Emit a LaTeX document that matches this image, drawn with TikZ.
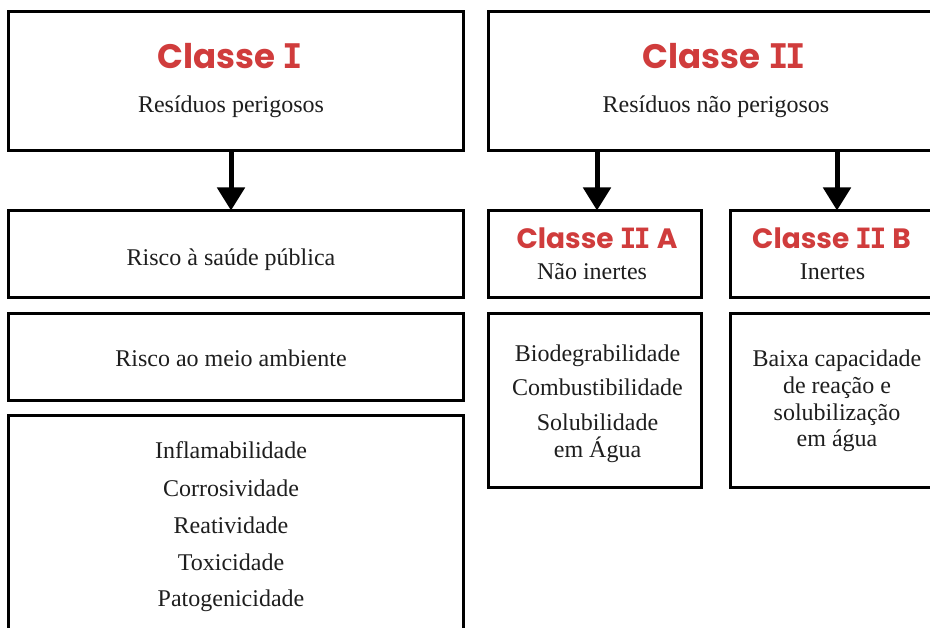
\documentclass[tikz,border=0pt]{standalone}
\usepackage{fontspec}
\setmainfont{Liberation Serif}
\newfontfamily\titlefont{Poppins Bold}
\newfontfamily\slabfont{DejaVu Sans Mono Bold}
\usetikzlibrary{arrows.meta}
\definecolor{titlered}{HTML}{D03C3C}
\definecolor{bodyink}{HTML}{1E1E1E}
\newcommand{\slabI}{{\slabfont I}}
\tikzset{
  box/.style={draw=black, line width=3pt, rectangle, inner sep=0pt, fill=white},
  bigtitle/.style={font=\titlefont\fontsize{34}{38}\selectfont, text=titlered, inner sep=0pt, anchor=base},
  smalltitle/.style={font=\titlefont\fontsize{28}{31}\selectfont, text=titlered, inner sep=0pt, anchor=base},
  body/.style={font=\fontsize{24}{28}\selectfont, text=bodyink, inner sep=0pt, anchor=base},
  arr/.style={line width=5pt, -{Triangle[width=27pt,length=23pt]}, shorten >=-1pt}
}
\begin{document}
\begin{tikzpicture}[x=1pt,y=-1pt]
\useasboundingbox (0,0) rectangle (930,628);
\clip (0,0) rectangle (930,628);
\fill[white] (0,0) rectangle (930,628);
% boxes
\node[box, minimum width=455pt, minimum height=139pt] (c1) at (235.5,81.5) {};
\node[box, minimum width=455pt, minimum height=139pt] (c2) at (715.5,81.5) {};
\node[box, minimum width=455pt, minimum height=87pt] (r1) at (235.5,254.5) {};
\node[box, minimum width=455pt, minimum height=87pt] (r2) at (235.5,357.5) {};
\node[box, minimum width=455pt, minimum height=230pt] (r3) at (235.5,531) {};
\node[box, minimum width=213pt, minimum height=87pt] (a1) at (594.5,254.5) {};
\node[box, minimum width=213pt, minimum height=174pt] (a2) at (594.5,401) {};
\node[box, minimum width=213pt, minimum height=87pt] (b1) at (836.5,254.5) {};
\node[box, minimum width=213pt, minimum height=174pt] (b2) at (836.5,401) {};
% arrows
\coordinate (s1) at (231,151);
\coordinate (s2) at (597,151);
\coordinate (s3) at (837,151);
\draw[arr] (c1.south -| s1) -- (r1.north -| s1);
\draw[arr] (c2.south -| s2) -- (a1.north -| s2);
\draw[arr] (c2.south -| s3) -- (b1.north -| s3);
% texts
\node[bigtitle] (t1) at (230,69) {Classe \slabI};
\node[body] (d1) at (231,113) {Resíduos perigosos};
\node[bigtitle] (t2) at (724.5,69) {Classe \slabI\kern-3pt\slabI};
\node[body] (d2) at (716,113) {Resíduos não perigosos};
\node[body] (x1) at (231,266) {Risco à saúde pública};
\node[body] (x2) at (231,367) {Risco ao meio ambiente};
\node[body] (l1) at (231,459) {Inflamabilidade};
\node[body] (l2) at (231,496.5) {Corrosividade};
\node[body] (l3) at (231,533) {Reatividade};
\node[body] (l4) at (231,570) {Toxicidade};
\node[body] (l5) at (231,606.5) {Patogenicidade};
\node[smalltitle] (ta) at (597,249) {Classe \slabI\kern-2.5pt\slabI{} A};
\node[body] (da) at (592,280) {Não inertes};
\node[smalltitle] (tb) at (831.5,249) {Classe \slabI\kern-2.5pt\slabI{} B};
\node[body] (db) at (832.5,280) {Inertes};
\node[body] (p1) at (597.5,361.5) {Biodegrabilidade};
\node[body] (p2) at (597.5,396) {Combustibilidade};
\node[body] (p3) at (597.5,430.5) {Solubilidade};
\node[body] (p4) at (597.5,458) {em Água};
\node[body] (q1) at (837,366.5) {Baixa capacidade};
\node[body] (q2) at (837,394) {de reação e};
\node[body] (q3) at (837,420.5) {solubilização};
\node[body] (q4) at (837,446.5) {em água};
\end{tikzpicture}
\end{document}
